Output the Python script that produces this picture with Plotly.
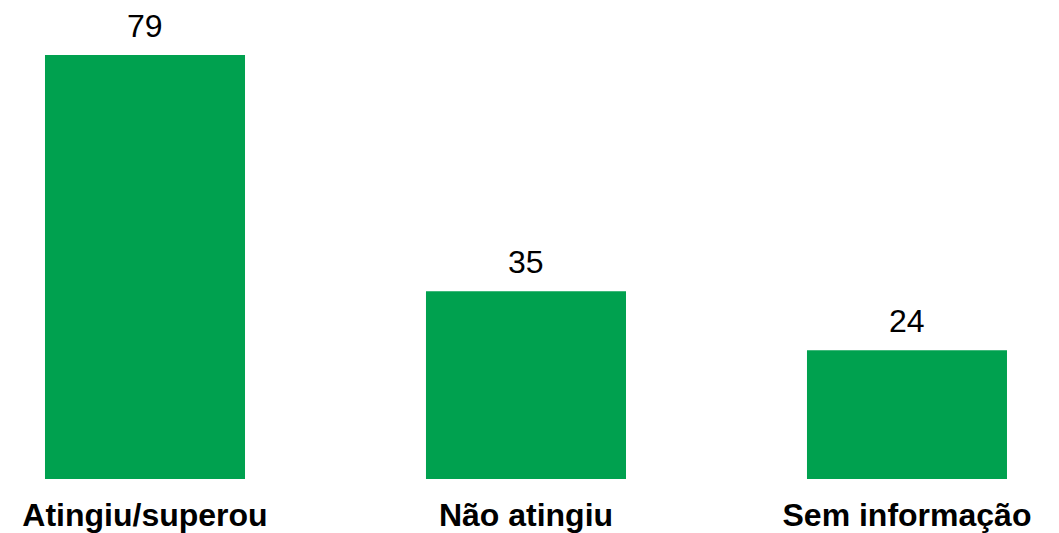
import plotly.graph_objects as go

categories = ["Atingiu/superou", "Não atingiu", "Sem informação"]
values = [79, 35, 24]

bar_color = "#00A14F"
font_family = "Liberation Sans, Arial, sans-serif"

fig = go.Figure(
    go.Bar(
        x=categories,
        y=values,
        marker=dict(color=bar_color, line=dict(width=0)),
        hoverinfo="skip",
    )
)

# value labels above each bar
for cat, val in zip(categories, values):
    fig.add_annotation(
        x=cat, y=val, text=str(val),
        showarrow=False, yanchor="bottom", yshift=9,
        font=dict(family=font_family, size=32, color="#000000"),
    )

fig.update_layout(
    width=1059, height=533,
    margin=dict(l=0, r=0, t=0, b=54),
    paper_bgcolor="white", plot_bgcolor="white",
    bargap=0.475,
    showlegend=False,
    template="none",
    xaxis=dict(
        range=[-0.3806, 2.399],
        showgrid=False, zeroline=False, showline=False,
        ticks="", automargin=False, ticklabelstandoff=14,
        tickfont=dict(family=font_family, size=32, color="#000000", weight="bold"),
        fixedrange=True,
    ),
    yaxis=dict(
        range=[0, 89.25],
        visible=False, showgrid=False, zeroline=False,
        fixedrange=True,
    ),
)

fig.write_html("out.html", config={"displayModeBar": False})
